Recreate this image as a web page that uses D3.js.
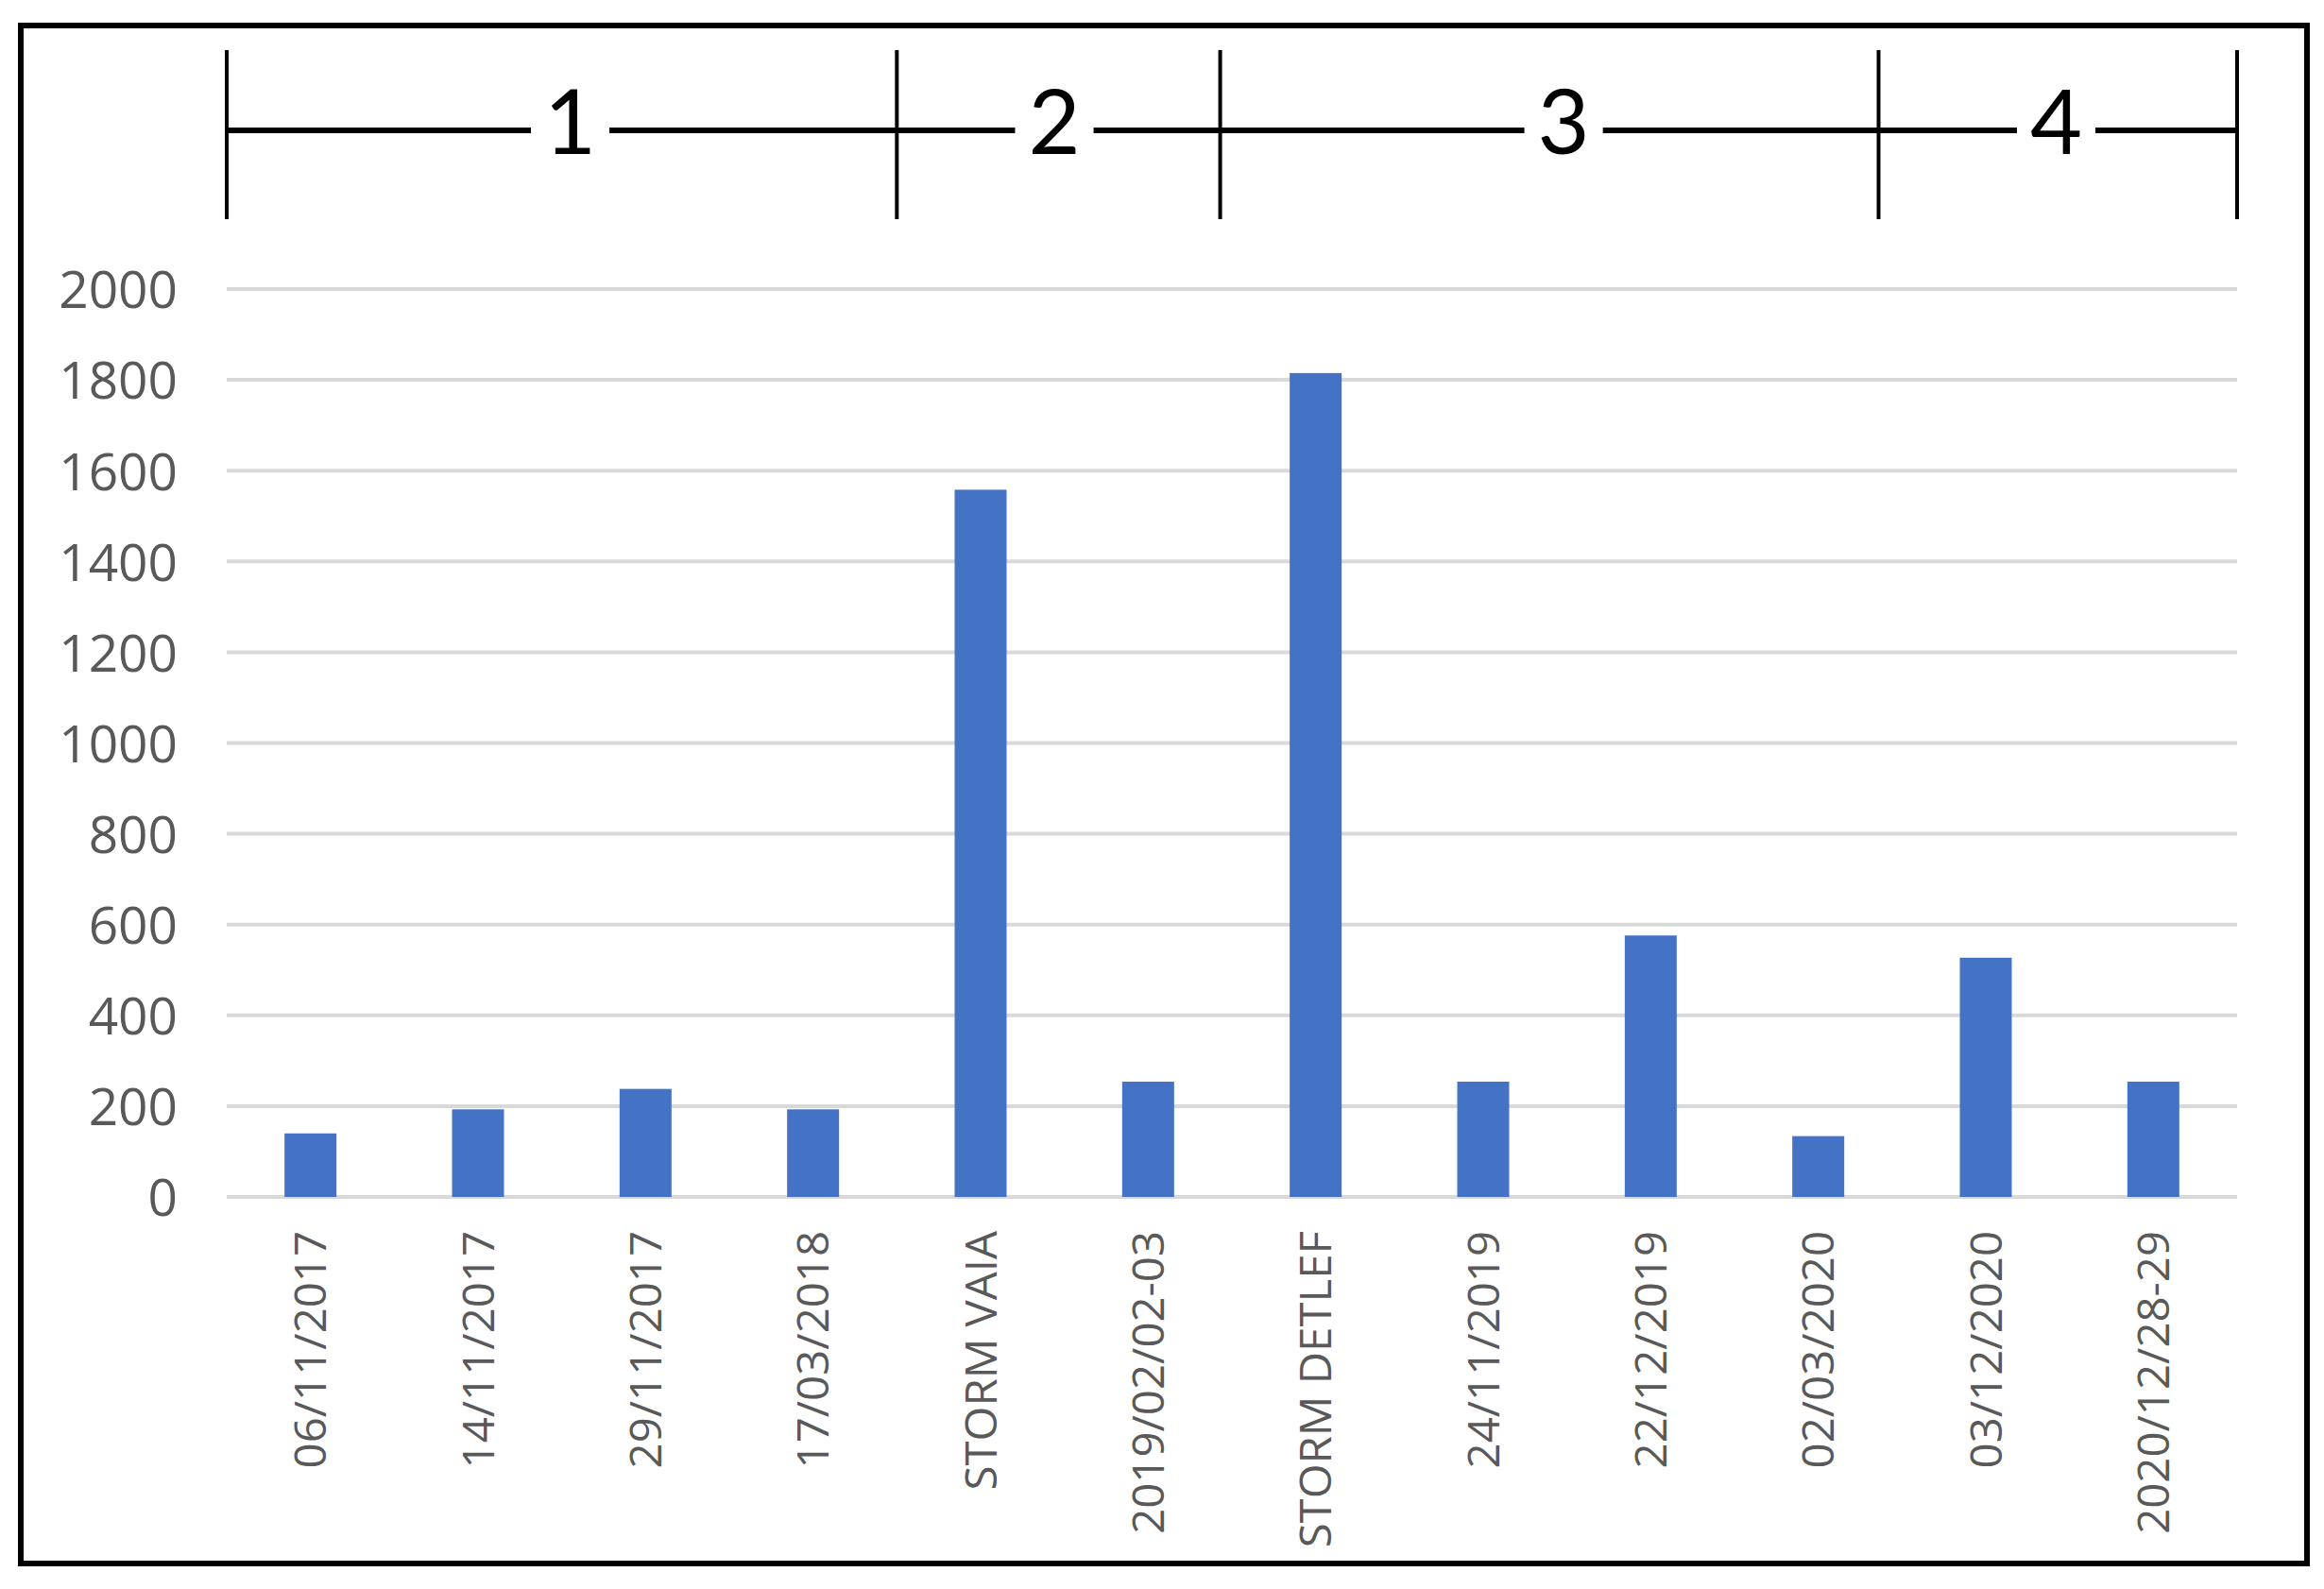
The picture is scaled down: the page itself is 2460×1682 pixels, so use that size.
<!DOCTYPE html>
<html>
<head>
<meta charset="utf-8">
<script src="https://cdn.jsdelivr.net/npm/d3@7"></script>
<style>
  html, body { margin: 0; padding: 0; background: #ffffff; }
  svg { display: block; }
</style>
</head>
<body>
<svg id="chart" width="2460" height="1682"></svg>
<script>
// ---- data ----
const categories = ["06/11/2017", "14/11/2017", "29/11/2017", "17/03/2018", "STORM VAIA",
  "2019/02/02-03", "STORM DETLEF", "24/11/2019", "22/12/2019", "02/03/2020", "03/12/2020", "2020/12/28-29"];
const values = [140, 193, 238, 193, 1558, 254, 1815, 254, 576, 134, 527, 254];
const yTicks = [0, 200, 400, 600, 800, 1000, 1200, 1400, 1600, 1800, 2000];
const groupLabels = ["1", "2", "3", "4"];
// group boundaries and label centres expressed in category-band units along the x axis
const groupBounds = [0, 4, 5.93, 9.86, 12];
const groupLabelPos = [2.05, 4.94, 7.98, 10.92];

// ---- layout ----
const W = 2460, H = 1682;
const plot = { left: 240, right: 2368, top: 306, bottom: 1267 };

const svg = d3.select("#chart");
svg.append("rect").attr("x", 0).attr("y", 0).attr("width", W).attr("height", H).attr("fill", "#fff");

// outer frame
svg.append("rect")
  .attr("x", 22).attr("y", 27).attr("width", 2420).attr("height", 1628)
  .attr("fill", "none").attr("stroke", "#000").attr("stroke-width", 6);

const x = d3.scaleBand().domain(categories).range([plot.left, plot.right]).paddingInner(0.69).paddingOuter(0.345);
const y = d3.scaleLinear().domain([0, 2000]).range([plot.bottom, plot.top]);
const u = d3.scaleLinear().domain([0, categories.length]).range([plot.left, plot.right]);

// gridlines
svg.append("g").selectAll("line").data(yTicks).join("line")
  .attr("x1", plot.left).attr("x2", plot.right)
  .attr("y1", d => y(d)).attr("y2", d => y(d))
  .attr("stroke", "#d9d9d9").attr("stroke-width", 4);

// y axis labels
const yAxis = d3.axisLeft(y).tickValues(yTicks).tickSize(0).tickPadding(0).tickFormat(d3.format("d"));
const gy = svg.append("g").attr("transform", `translate(${188},0)`).call(yAxis);
gy.select(".domain").remove();
gy.selectAll("text")
  .attr("fill", "#595959")
  .style("font-family", "'Open Sans', sans-serif")
  .style("font-size", "55px")
  .attr("dy", "0.36em");

// bars
svg.append("g").selectAll("rect").data(values).join("rect")
  .attr("x", (d, i) => x(categories[i]))
  .attr("width", x.bandwidth())
  .attr("y", d => y(d))
  .attr("height", d => y(0) - y(d))
  .attr("fill", "#4472c4");

// x axis labels (rotated)
const xAxis = d3.axisBottom(x).tickSize(0).tickPadding(0);
const gx = svg.append("g").attr("transform", `translate(0,${1303})`).call(xAxis);
gx.select(".domain").remove();
gx.selectAll("text")
  .attr("fill", "#595959")
  .style("font-family", "'Open Sans', sans-serif")
  .style("font-size", "46px")
  .attr("text-anchor", "end")
  .attr("transform", "rotate(-90) scale(1.03,1)")
  .attr("x", 0).attr("y", 0)
  .attr("dy", "0.36em");

// top bracket
const bracketY = 138;
const gb = svg.append("g");
gb.append("line")
  .attr("x1", u(groupBounds[0])).attr("x2", u(groupBounds[groupBounds.length - 1]))
  .attr("y1", bracketY).attr("y2", bracketY)
  .attr("stroke", "#000").attr("stroke-width", 6);
gb.selectAll("line.tick").data(groupBounds).join("line")
  .attr("class", "tick")
  .attr("x1", d => u(d)).attr("x2", d => u(d))
  .attr("y1", 53).attr("y2", 232)
  .attr("stroke", "#000").attr("stroke-width", 4);

groupLabels.forEach((lab, i) => {
  const cx = u(groupLabelPos[i]);
  const t = gb.append("text")
    .attr("x", cx).attr("y", 163)
    .attr("text-anchor", "middle")
    .style("font-family", "Lato, 'Liberation Sans', sans-serif")
    .style("font-size", "95px")
    .attr("fill", "#000")
    .text(lab);
  const bb = t.node().getBBox();
  gb.insert("rect", "text")
    .attr("x", bb.x - 14).attr("y", bracketY - 6)
    .attr("width", bb.width + 28).attr("height", 12)
    .attr("fill", "#fff");
});
</script>
</body>
</html>
